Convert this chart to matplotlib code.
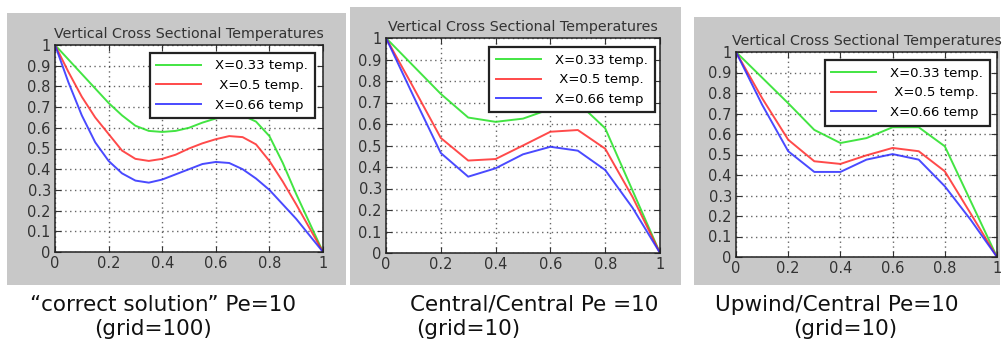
import numpy as np
import matplotlib
matplotlib.use("Agg")
import matplotlib.pyplot as plt
from matplotlib.patches import Rectangle

plt.rcParams['font.family'] = ['DejaVu Sans']

# fine grid solution (grid=100), sampled every 0.05
x_fine = np.round(np.arange(0, 1.0001, 0.05), 2)
green_fine = [1.0, 0.93, 0.86, 0.79, 0.72, 0.66, 0.61, 0.585, 0.58, 0.585, 0.60,
              0.625, 0.645, 0.66, 0.66, 0.63, 0.56, 0.43, 0.28, 0.14, 0.0]
red_fine = [1.0, 0.87, 0.75, 0.65, 0.57, 0.49, 0.45, 0.44, 0.45, 0.47, 0.50,
            0.525, 0.545, 0.56, 0.555, 0.52, 0.44, 0.34, 0.23, 0.115, 0.0]
blue_fine = [1.0, 0.82, 0.66, 0.53, 0.44, 0.38, 0.345, 0.335, 0.35, 0.375, 0.40,
             0.425, 0.435, 0.43, 0.40, 0.355, 0.30, 0.23, 0.16, 0.08, 0.0]

# coarse grid (grid=10)
x_coarse = np.round(np.arange(0, 1.0001, 0.1), 1)
green_cc = [1.0, 0.87, 0.74, 0.63, 0.61, 0.625, 0.67, 0.70, 0.58, 0.29, 0.0]
red_cc = [1.0, 0.77, 0.535, 0.43, 0.437, 0.50, 0.564, 0.572, 0.485, 0.26, 0.0]
blue_cc = [1.0, 0.73, 0.465, 0.355, 0.394, 0.459, 0.494, 0.476, 0.386, 0.21, 0.0]

green_uc = [1.0, 0.875, 0.75, 0.62, 0.556, 0.58, 0.633, 0.633, 0.54, 0.27, 0.0]
red_uc = [1.0, 0.775, 0.572, 0.467, 0.454, 0.496, 0.532, 0.516, 0.418, 0.21, 0.0]
blue_uc = [1.0, 0.743, 0.516, 0.415, 0.415, 0.475, 0.502, 0.475, 0.345, 0.18, 0.0]

labels = ['X=0.33 temp.', ' X=0.5 temp.', 'X=0.66 temp']
colors = ['#22e022', '#ff2a2a', '#2a2aff']

captions = [['\u201ccorrect solution\u201d Pe=10', '(grid=100)'],
            ['Central/Central Pe =10', '(grid=10)'],
            ['Upwind/Central Pe=10', '(grid=10)']]

W, H = 1006, 344
fig = plt.figure(figsize=(W / 100, H / 100), dpi=100)
fig.patch.set_facecolor('white')


def px_box(l, t, r, b):
    return [l / W, (H - b) / H, (r - l) / W, (b - t) / H]


# gray window backgrounds
for l, t, r, b in [(7, 13, 346, 285), (350, 7, 681, 285), (694, 17, 1000, 285)]:
    fig.patches.append(Rectangle((l / W, (H - b) / H), (r - l) / W, (b - t) / H,
                                 transform=fig.transFigure, facecolor='#c8c8c8',
                                 edgecolor='none', zorder=-10))

axes_px = [(55, 45, 323, 252), (386, 38, 660, 253), (736, 52, 997, 257)]
legend_anchor = [(0.97, 0.962), (0.98, 0.958), (0.973, 0.96)]
series = [(x_fine, green_fine, red_fine, blue_fine),
          (x_coarse, green_cc, red_cc, blue_cc),
          (x_coarse, green_uc, red_uc, blue_uc)]

for i, (box, (x, g, r, b)) in enumerate(zip(axes_px, series)):
    ax = fig.add_axes(px_box(*box))
    ax.set_zorder(5)
    for y, c, lab in zip([g, r, b], colors, labels):
        ax.plot(x, y, color=c, lw=1.4, alpha=0.85, label=lab)
    ax.set_xlim(0, 1)
    ax.set_ylim(0, 1)
    ax.set_xticks([0, 0.2, 0.4, 0.6, 0.8, 1])
    ax.set_xticklabels(['0', '0.2', '0.4', '0.6', '0.8', '1'])
    ax.set_yticks(np.round(np.arange(0, 1.01, 0.1), 1))
    ax.set_yticklabels(['0', '0.1', '0.2', '0.3', '0.4', '0.5', '0.6', '0.7', '0.8', '0.9', '1'])
    ax.grid(True, color='black', linestyle=(0, (1, 2.5)), linewidth=1.0, alpha=0.6)
    ax.tick_params(direction='in', length=4, top=True, right=True,
                   labelsize=10.5, colors='#333333', pad=3)
    for s in ax.spines.values():
        s.set_color('#222222')
        s.set_linewidth(1.1)
    ax.set_title('Vertical Cross Sectional Temperatures', fontsize=10.3,
                 color='#333333', pad=5)
    leg = ax.legend(loc='upper right', bbox_to_anchor=legend_anchor[i], fontsize=9.5,
                    fancybox=False, framealpha=1, edgecolor='#222222',
                    handlelength=3.4, handletextpad=1.1, labelspacing=0.5,
                    borderpad=0.5, borderaxespad=0)
    leg.get_frame().set_linewidth(1.6)

# captions under each window
cap_x = [(163, 153), (534, 468), (837, 845)]
for (x1, x2), (l1, l2) in zip(cap_x, captions):
    fig.text(x1 / W, 1 - 311 / H, l1, ha='center', va='baseline', fontsize=15.5, color='#111111')
    fig.text(x2 / W, 1 - 335 / H, l2, ha='center', va='baseline', fontsize=15.5, color='#111111')

fig.savefig('out.png', dpi=100, facecolor='white')
